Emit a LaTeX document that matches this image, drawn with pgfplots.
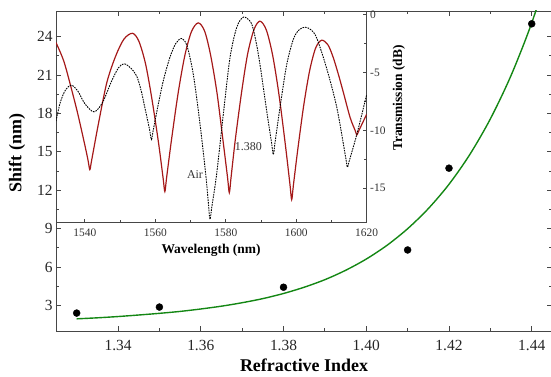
\documentclass[border=0pt]{standalone}
\usepackage{fontspec}
\setmainfont{Liberation Serif}
\usepackage{pgfplots}
\pgfplotsset{compat=1.18}
\definecolor{axgray}{RGB}{70,70,70}
\definecolor{myred}{RGB}{165,25,25}
\definecolor{mygreen}{RGB}{20,135,20}
\begin{document}
\begin{tikzpicture}
\begin{axis}[name=main, at={(0,0)}, anchor=south west, scale only axis,
  width=496.4bp, height=320bp,
  xmin=1.325, xmax=1.445, ymin=1, ymax=26,
  axis line style={axgray, line width=0.9pt},
  every tick/.style={axgray, line width=0.8pt},
  tick align=inside, major tick length=5bp, minor tick length=3bp,
  xtick={1.34,1.36,1.38,1.40,1.42,1.44},
  xticklabels={1.34,1.36,1.38,1.40,1.42,1.44},
  minor x tick num=1,
  ytick={3,6,9,12,15,18,21,24},
  yticklabels={3,6,9,12,15,18,21,24},
  minor y tick num=1,
  xtick pos=both, ytick pos=both,
  xticklabel pos=bottom, yticklabel pos=left,
  ticklabel style={font=\fontsize{15.5}{18}\selectfont, text=black!85},
  xticklabel style={yshift=-6bp},
  /pgf/number format/assume math mode=true,
]
\addplot[mygreen, line width=1.4pt, smooth] coordinates {
(1.33,1.95) (1.335,2.03) (1.34,2.13) (1.345,2.25) (1.35,2.38) (1.355,2.53)
(1.36,2.72) (1.365,2.94) (1.37,3.21) (1.375,3.53) (1.38,3.93) (1.385,4.42)
(1.39,5.01) (1.395,5.74) (1.40,6.62) (1.405,7.69) (1.41,8.99) (1.415,10.56)
(1.42,12.46) (1.425,14.77) (1.43,17.57) (1.435,20.96) (1.44,25.07) (1.445,30.05)
};
\addplot[only marks, mark=*, mark size=3.5bp, black] coordinates {
(1.33,2.4) (1.35,2.87) (1.38,4.42) (1.41,7.33) (1.42,13.72) (1.44,25.0)
};
\end{axis}
\begin{axis}[name=inset, at={(0,320bp)}, anchor=north west, scale only axis,
  width=310.7bp, height=211.7bp,
  xmin=1531.8, xmax=1620, ymin=-18, ymax=0.33,
  axis line style={axgray, line width=0.9pt},
  every tick/.style={axgray, line width=0.8pt},
  tick align=inside, major tick length=4bp, minor tick length=2.5bp,
  xtick={1540,1560,1580,1600,1620},
  xticklabels={1540,1560,1580,1600,1620},
  minor x tick num=1,
  ytick={-15,-10,-5,0},
  yticklabels={-15,-10,-5,0},
  minor y tick num=1,
  xtick pos=bottom, ytick pos=right, yticklabel pos=right,
  ticklabel style={font=\fontsize{11.5}{14}\selectfont, text=black!80},
  xticklabel style={yshift=-3bp},
  /pgf/number format/assume math mode=true,
]
\addplot[myred, line width=1.2pt, smooth, tension=0.5] coordinates {
(1531.8,-2.4) (1534,-4.0) (1536,-6.2) (1538,-8.6) (1540,-11.3) (1540.9,-12.6) (1541.4,-13.4)
(1541.9,-12.63) (1543.8,-9.5) (1546.2,-5.9) (1548.7,-3.6) (1551.1,-2.1) (1553.5,-1.6)
(1555.3,-2.27) (1557.2,-4.22) (1559.0,-7.24) (1560.9,-11.07) (1562.2,-14.13) (1562.7,-15.3)
(1563.2,-14.09) (1564.6,-10.79) (1566.5,-6.72) (1568.4,-3.49) (1570.3,-1.42) (1572.2,-0.7)
(1574.0,-1.42) (1575.7,-3.51) (1577.5,-6.76) (1579.2,-10.86) (1580.5,-14.09) (1581.0,-15.4)
(1581.5,-14.06) (1582.7,-10.81) (1584.5,-6.67) (1586.2,-3.39) (1588.0,-1.28) (1589.7,-0.55)
(1591.5,-1.31) (1593.3,-3.5) (1595.1,-6.92) (1596.9,-11.23) (1598.2,-14.65) (1598.7,-16.0)
(1599.2,-14.73) (1600.4,-11.74) (1602.1,-7.89) (1603.8,-4.84) (1605.5,-2.88) (1607.2,-2.2)
(1609,-2.6) (1610.5,-3.7) (1612,-5.2) (1613.4,-6.75) (1615.3,-8.9) (1616.7,-10.0) (1617.2,-10.4)
(1617.7,-10.08) (1620,-8.6)
};
\addplot[black, line width=0.9pt, dash pattern=on 1.6pt off 1pt, smooth, tension=0.5] coordinates {
(1531.8,-9.2) (1533,-7.6) (1534.5,-6.5) (1536.2,-6.1) (1538,-6.6) (1540,-7.7)
(1542.6,-8.4) (1545,-7.6) (1547.5,-5.8) (1549.5,-4.6) (1551.1,-4.24) (1553,-4.6)
(1554.7,-5.3) (1556,-6.6) (1557,-8.0) (1558,-9.4) (1558.4,-10.0) (1558.9,-10.8) (1559.4,-10.0)
(1560.6,-8.1) (1562.3,-5.66) (1564.1,-3.72) (1565.8,-2.48) (1567.5,-2.05) (1569,-2.7)
(1570.8,-5.2) (1572.7,-9.5) (1574.3,-13.8) (1575.0,-16.1) (1575.5,-17.7) (1576.0,-16.7)
(1577.4,-13.8) (1579.3,-8.6) (1581.2,-3.7) (1583.1,-1.1) (1585.0,-0.2) (1587.2,-0.7)
(1588.5,-2.2) (1589.7,-4.3) (1591.6,-8.3) (1593.0,-11.1) (1593.5,-12.1) (1594.0,-11.0)
(1595.4,-8.0) (1597.3,-4.3) (1599.2,-2.1) (1600.8,-1.3) (1602.5,-1.07) (1604.2,-1.3)
(1605.8,-2.0) (1608.6,-4.6) (1611.5,-8.0) (1614.0,-12.3) (1614.5,-13.2) (1615.0,-12.7)
(1617.2,-10.35) (1620,-6.9)
};
\node[font=\fontsize{12}{14}\selectfont, text=black!80] at (axis cs:1571.25,-13.84) {Air};
\node[font=\fontsize{12}{14}\selectfont, text=black!80] at (axis cs:1586.4,-11.42) {1.380};
\end{axis}
\node[rotate=90, font=\bfseries\fontsize{18}{21}\selectfont] at (-39bp,178bp) {Shift (nm)};
\node[font=\bfseries\fontsize{18}{21}\selectfont] at (248bp,-34bp) {Refractive Index};
\node[font=\bfseries\fontsize{13.5}{16}\selectfont] at (155bp,81bp) {Wavelength (nm)};
\node[rotate=90, font=\bfseries\fontsize{13.5}{16}\selectfont] at (343bp,233bp) {Transmission (dB)};
\pgfresetboundingbox
\useasboundingbox (-56bp,-46bp) rectangle (495bp,331bp);
\end{tikzpicture}
\end{document}
